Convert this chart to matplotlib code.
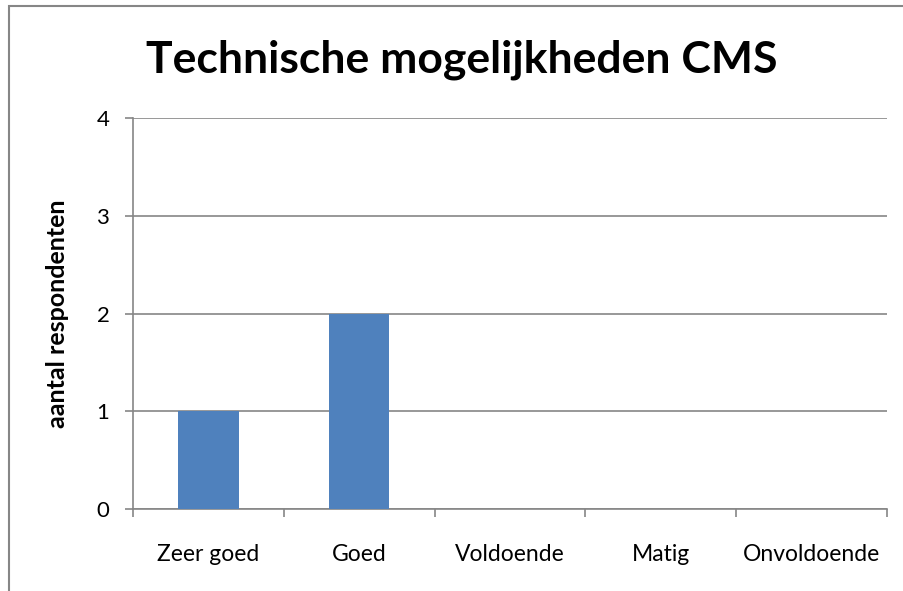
import matplotlib.pyplot as plt
from matplotlib.patches import Rectangle

categories = ["Zeer goed", "Goed", "Voldoende", "Matig", "Onvoldoende"]
counts = [1, 2, 0, 0, 0]
yticks = [0, 1, 2, 3, 4]

plt.rcParams['font.family'] = ['Lato', 'DejaVu Sans']

fig = plt.figure(figsize=(9.04, 5.91), dpi=100)
ax = fig.add_axes([133 / 904, 1 - 509 / 591, (887 - 133) / 904, (509 - 118) / 591])

grid_c = "#868686"
x = list(range(len(categories)))
ax.bar(x, counts, width=0.4, color="#4F81BD", zorder=3)

ax.set_xlim(-0.5, len(categories) - 0.5)
ax.set_ylim(0, 4)
ax.set_yticks(yticks)
ax.yaxis.grid(True, color=grid_c, linewidth=1.2)
ax.set_axisbelow(True)

# category labels centered, tick marks at boundaries
ax.set_xticks(x)
ax.set_xticklabels(categories, fontsize=16.5)
ax.tick_params(axis="x", length=0, pad=25)
ax.set_xticks([i - 0.5 for i in range(len(categories) + 1)], minor=True)
ax.tick_params(axis="x", which="minor", length=6, color=grid_c, width=1.2, direction="out")
ax.tick_params(axis="y", length=6, color=grid_c, width=1.2, labelsize=16, pad=11)

for s in ["top", "right"]:
    ax.spines[s].set_visible(False)
for s in ["left", "bottom"]:
    ax.spines[s].set_color(grid_c)
    ax.spines[s].set_linewidth(1.2)

fig.text(58 / 904, 1 - 314 / 591, "aantal respondenten", fontsize=18,
         fontweight="bold", rotation=90, ha="center", va="center")
fig.text(462 / 904, 1 - 72 / 591, "Technische mogelijkheden CMS", fontsize=32,
         fontweight="bold", ha="center", va="baseline")

# outer chart border (cropped at right/bottom)
fig.patches.append(Rectangle((9 / 904, -0.1), 1.2, (1 - 6 / 591) + 0.1,
                             transform=fig.transFigure, fill=False,
                             edgecolor=grid_c, linewidth=1.5))

fig.savefig("out.png", dpi=100)
